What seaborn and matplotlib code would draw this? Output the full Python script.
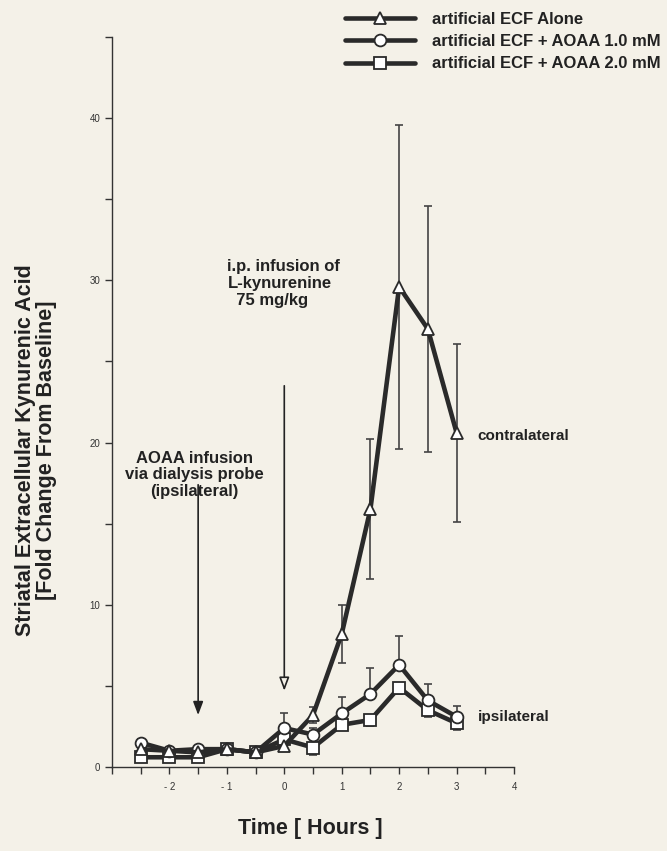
import numpy as np
import pandas as pd
import matplotlib
matplotlib.use("Agg")
import matplotlib.pyplot as plt
import seaborn as sns
from matplotlib.ticker import FixedLocator, FixedFormatter, MultipleLocator

# ---- data ----
hours = [-2.5, -2, -1.5, -1, -0.5, 0, 0.5, 1, 1.5, 2, 2.5, 3]
ecf_alone = [1.1, 1.0, 0.9, 1.1, 0.9, 1.3, 3.2, 8.2, 15.9, 29.6, 27.0, 20.6]
ecf_alone_err = [0.2, 0.2, 0.2, 0.2, 0.2, 0.3, 0.5, 1.8, 4.3, 10.0, 7.6, 5.5]
aoaa_1 = [1.5, 1.0, 1.1, 1.1, 0.9, 2.4, 2.0, 3.3, 4.5, 6.3, 4.1, 3.1]
aoaa_1_err = [0.2, 0.2, 0.2, 0.2, 0.2, 0.9, 0.4, 1.0, 1.6, 1.8, 1.0, 0.65]
aoaa_2 = [0.6, 0.6, 0.6, 1.1, 0.9, 1.7, 1.2, 2.6, 2.9, 4.9, 3.5, 2.7]
aoaa_2_err = [0.2, 0.2, 0.2, 0.2, 0.2, 0.6, 0.45, 0.3, 0.4, 0.4, 0.4, 0.4]
labels = ["artificial ECF Alone", "artificial ECF + AOAA 1.0 mM", "artificial ECF + AOAA 2.0 mM"]
x_ticks = [-2, -1, 0, 1, 2, 3, 4]
x_tick_labels = ["- 2", "- 1", "0", "1", "2", "3", "4"]
y_ticks = [0, 10, 20, 30, 40]

BG = "#f4f1e8"
LC = "#2a2a2a"

sns.set_style("ticks")
plt.rcParams["font.family"] = ["Liberation Sans", "DejaVu Sans"]

fig = plt.figure(figsize=(6.67, 8.51), dpi=100, facecolor=BG)
ax = fig.add_axes([112/667, 1-767/851, (514-112)/667, (767-37)/851])
ax.set_facecolor(BG)

df = pd.DataFrame({
    "hours": hours * 3,
    "value": ecf_alone + aoaa_1 + aoaa_2,
    "group": [labels[0]] * len(hours) + [labels[1]] * len(hours) + [labels[2]] * len(hours),
})

# error bars
ax.errorbar(hours, aoaa_2, yerr=[aoaa_2_err, [0]*len(hours)], fmt="none",
            ecolor="#444444", elinewidth=1.2, capsize=3, capthick=1.2, zorder=1)
ax.errorbar(hours, aoaa_1, yerr=[[0]*len(hours), aoaa_1_err], fmt="none",
            ecolor="#444444", elinewidth=1.2, capsize=3, capthick=1.2, zorder=1)
ax.errorbar(hours, ecf_alone, yerr=ecf_alone_err, fmt="none",
            ecolor="#444444", elinewidth=1.2, capsize=3, capthick=1.2, zorder=1)

markers = {labels[0]: "^", labels[1]: "o", labels[2]: "s"}
order = [labels[2], labels[1], labels[0]]
for i, g in enumerate(order):
    sub = df[df["group"] == g]
    sns.lineplot(data=sub, x="hours", y="value", ax=ax, color=LC, linewidth=3.3,
                 marker=markers[g], markersize=8.5, markerfacecolor="white",
                 markeredgecolor=LC, markeredgewidth=1.3, label=g, zorder=3 + i,
                 legend=False)

ax.set_xlim(-3, 4)
ax.set_ylim(0, 45)
sns.despine(ax=ax)
for s in ["left", "bottom"]:
    ax.spines[s].set_color("#333333")
    ax.spines[s].set_linewidth(1.0)

ax.xaxis.set_major_locator(FixedLocator(x_ticks))
ax.xaxis.set_major_formatter(FixedFormatter(x_tick_labels))
ax.xaxis.set_minor_locator(MultipleLocator(0.5))
ax.yaxis.set_major_locator(FixedLocator(y_ticks))
ax.yaxis.set_minor_locator(MultipleLocator(5))
ax.tick_params(axis="both", which="both", direction="out", length=5, width=1.0,
               color="#333333", labelsize=7, labelcolor="#333333")
ax.tick_params(axis="x", pad=6)

ax.set_xlabel("Time [ Hours ]", fontsize=15.5, fontweight="bold", color="#222222")
ax.xaxis.set_label_coords(0.4925, -0.07)
ax.set_ylabel("Striatal Extracellular Kynurenic Acid\n[Fold Change From Baseline]",
              fontsize=15.5, fontweight="bold", color="#222222", linespacing=1.0)
ax.yaxis.set_label_coords(-0.137, 0.434)

# annotations
ax.annotate("", xy=(-1.5, 3.2), xytext=(-1.5, 17.4),
            arrowprops=dict(arrowstyle="-|>,head_length=0.8,head_width=0.3",
                            color="#222222", lw=1.2, shrinkA=0, shrinkB=0))
ax.annotate("", xy=(0, 4.7), xytext=(0, 23.5),
            arrowprops=dict(arrowstyle="-|>,head_length=0.8,head_width=0.3",
                            fc=BG, ec="#222222", lw=1.2, shrinkA=0, shrinkB=0))
ax.text(-1.57, 18.0, "AOAA infusion\nvia dialysis probe\n(ipsilateral)",
        ha="center", va="center", multialignment="center", fontsize=12,
        fontweight="bold", color="#222222", linespacing=1.15)
ax.text(-0.99, 29.8, "i.p. infusion of\nL-kynurenine\n  75 mg/kg",
        ha="left", va="center", multialignment="left", fontsize=12,
        fontweight="bold", color="#222222", linespacing=1.15)
ax.text(3.37, 20.4, "contralateral", ha="left", va="center", fontsize=11,
        fontweight="bold", color="#222222")
ax.text(3.37, 3.1, "ipsilateral", ha="left", va="center", fontsize=11,
        fontweight="bold", color="#222222")

# legend
handles, leg_labels = ax.get_legend_handles_labels()
hmap = dict(zip(leg_labels, handles))
leg = fig.legend([hmap[l] for l in labels], labels, loc="upper left",
                 bbox_to_anchor=(345/667, 1 - 11.5/851), frameon=False,
                 fontsize=12, handlelength=4.2, handletextpad=1.0,
                 labelspacing=0.45, borderpad=0, borderaxespad=0)
for t in leg.get_texts():
    t.set_fontweight("bold")
    t.set_color("#222222")

fig.savefig("out.png", dpi=100, facecolor=BG)
